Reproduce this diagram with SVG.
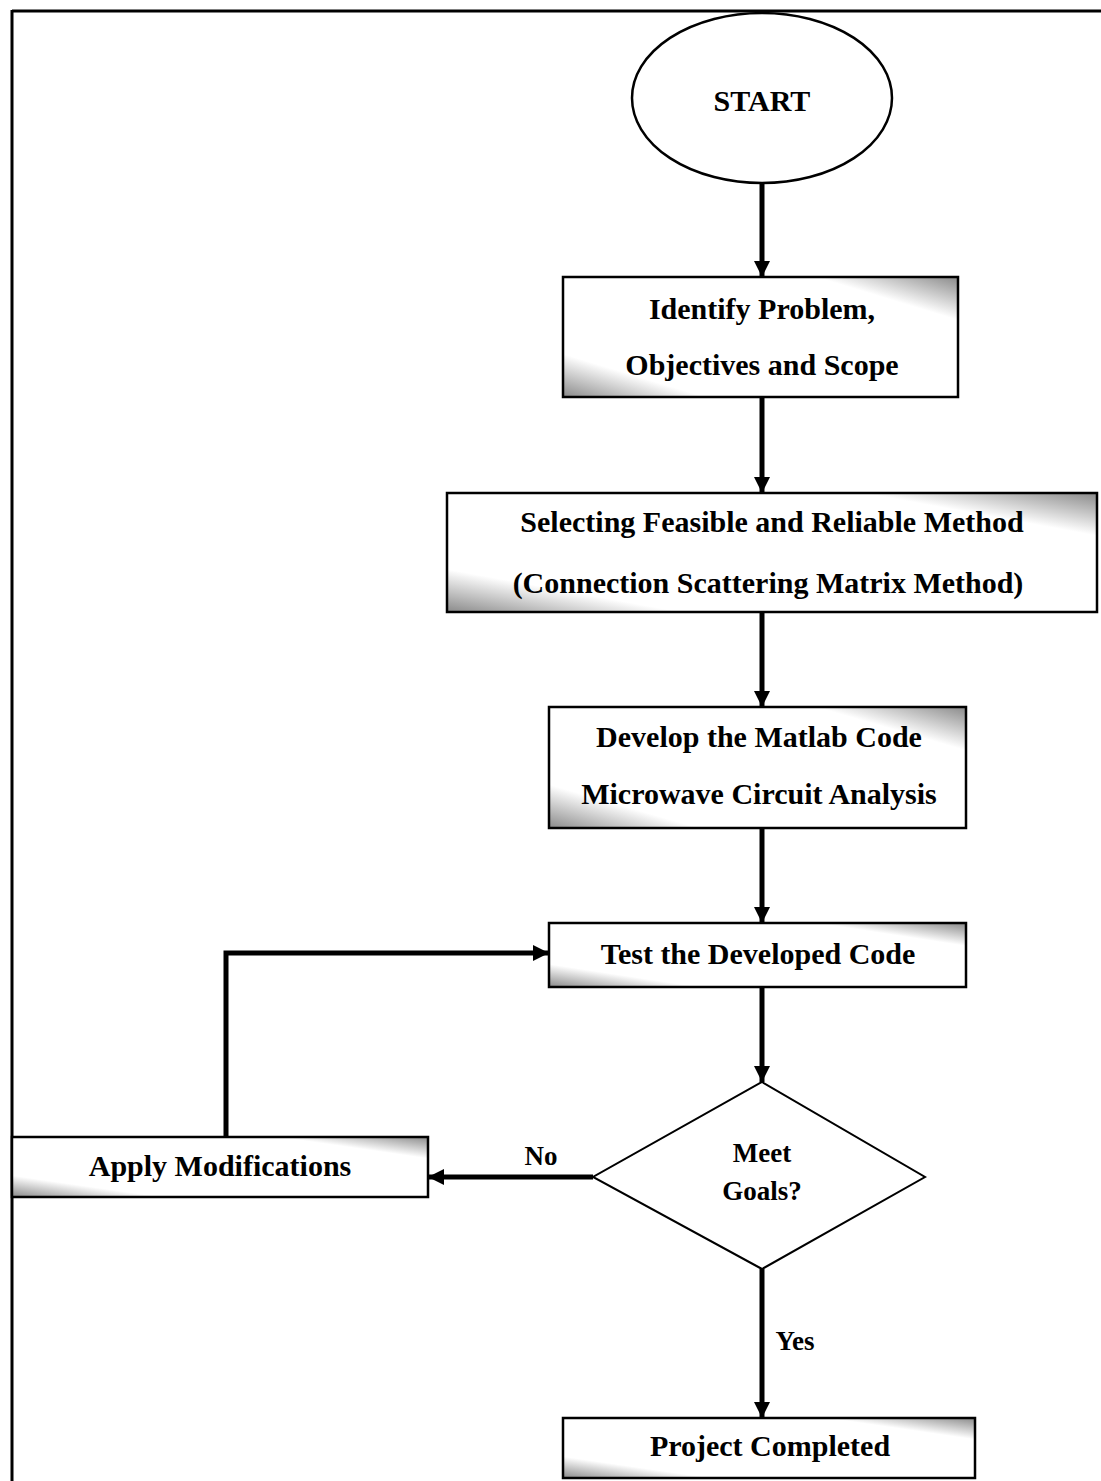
<svg xmlns="http://www.w3.org/2000/svg" width="1101" height="1481" viewBox="0 0 1101 1481">
<style>
.box{stroke:#000;stroke-width:2.5;fill:url(#g)}
.t{font-family:"Liberation Serif","Times New Roman",serif;font-weight:bold;font-size:30px;fill:#000;text-anchor:middle}
.c{stroke:#000;stroke-width:5;fill:none}
</style>
<defs>
<linearGradient id="g" x1="0" y1="1" x2="1" y2="0">
<stop offset="0" stop-color="#8a8a8a"/>
<stop offset="0.18" stop-color="#ffffff"/>
<stop offset="0.82" stop-color="#ffffff"/>
<stop offset="1" stop-color="#8a8a8a"/>
</linearGradient>
<marker id="ah" viewBox="0 0 10 10" refX="10" refY="5" markerWidth="3.2" markerHeight="3.2" orient="auto" markerUnits="strokeWidth">
<path d="M0,0 L10,5 L0,10 z" fill="#000"/>
</marker>
</defs>
<rect width="1101" height="1481" fill="#fff"/>
<g id="frame">
<line x1="12" y1="11" x2="1101" y2="11" stroke="#000" stroke-width="3"/>
<line x1="12" y1="10" x2="12" y2="1481" stroke="#000" stroke-width="3"/>
</g>
<g id="connectors">
<line class="c" x1="762" y1="183" x2="762" y2="277" marker-end="url(#ah)"/>
<line class="c" x1="762" y1="397" x2="762" y2="493" marker-end="url(#ah)"/>
<line class="c" x1="762" y1="612" x2="762" y2="707" marker-end="url(#ah)"/>
<line class="c" x1="762" y1="828" x2="762" y2="923" marker-end="url(#ah)"/>
<line class="c" x1="762" y1="987" x2="762" y2="1082" marker-end="url(#ah)"/>
<line class="c" x1="593" y1="1177" x2="428" y2="1177" marker-end="url(#ah)"/>
<polyline class="c" points="226,1137 226,953 549,953" marker-end="url(#ah)"/>
<line class="c" x1="762" y1="1269" x2="762" y2="1418" marker-end="url(#ah)"/>
<text class="t" x="541" y="1165" style="font-size:27px">No</text>
<text class="t" x="795" y="1350" style="font-size:27px">Yes</text>
</g>
<g id="start">
<ellipse cx="762" cy="98" rx="130" ry="85" fill="#fff" stroke="#000" stroke-width="2.5"/>
<text class="t" x="762" y="111">START</text>
</g>
<g id="identify">
<rect class="box" x="563" y="277" width="395" height="120"/>
<text class="t" x="762" y="319">Identify Problem,</text>
<text class="t" x="762" y="375">Objectives and Scope</text>
</g>
<g id="selecting">
<rect class="box" x="447" y="493" width="650" height="119"/>
<text class="t" x="772" y="532">Selecting Feasible and Reliable Method</text>
<text class="t" x="768" y="593">(Connection Scattering Matrix Method)</text>
</g>
<g id="develop">
<rect class="box" x="549" y="707" width="417" height="121"/>
<text class="t" x="759" y="747">Develop the Matlab Code</text>
<text class="t" x="759" y="804">Microwave Circuit Analysis</text>
</g>
<g id="test">
<rect class="box" x="549" y="923" width="417" height="64"/>
<text class="t" x="758" y="964">Test the Developed Code</text>
</g>
<g id="decision">
<polygon points="762,1082 925,1177 762,1269 593,1177" fill="#fff" stroke="#000" stroke-width="2"/>
<text class="t" x="762" y="1162" style="font-size:27px">Meet</text>
<text class="t" x="762" y="1200" style="font-size:27px">Goals?</text>
</g>
<g id="apply">
<rect class="box" x="12" y="1137" width="416" height="60"/>
<text class="t" x="220" y="1176">Apply Modifications</text>
</g>
<g id="completed">
<rect class="box" x="563" y="1418" width="412" height="60"/>
<text class="t" x="770" y="1456">Project Completed</text>
</g>
</svg>
